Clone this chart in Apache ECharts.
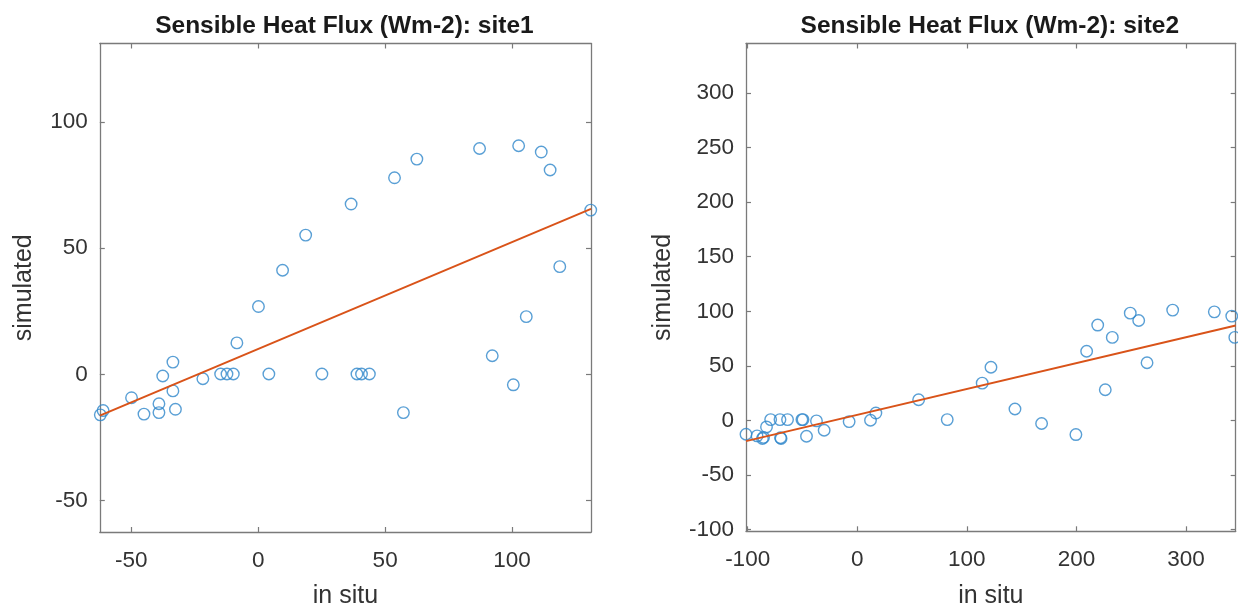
<!DOCTYPE html>
<html>
<head>
<meta charset="utf-8">
<script src="https://cdn.jsdelivr.net/npm/echarts@6/dist/echarts.min.js"></script>
<style>
html,body{margin:0;padding:0;background:#fff;}
#chart{width:1238px;height:609px;}
</style>
</head>
<body>
<div id="chart"></div>
<script>
// ---- data ----
const site1X = [-62.2, -61.1, -49.9, -45.0, -39.1, -39.1, -37.6, -33.6, -33.6, -32.6, -21.8, -14.8, -12.3, -9.8, -8.4, 0.1, 4.2, 9.6, 18.7, 25.1, 36.6, 38.9, 40.7, 43.8, 53.7, 57.2, 62.5, 87.2, 92.2, 100.5, 102.6, 105.6, 111.5, 115.0, 118.8, 131.0];
const site1Y = [-16.0, -14.3, -9.2, -15.7, -11.6, -15.1, -0.6, 4.9, -6.5, -13.8, -1.7, 0.2, 0.2, 0.2, 12.5, 26.9, 0.2, 41.3, 55.2, 0.2, 67.5, 0.2, 0.2, 0.2, 77.9, -15.1, 85.3, 89.5, 7.4, -4.1, 90.6, 22.9, 88.1, 81.0, 42.7, 65.1];
const site2X = [-101.5, -91.4, -86.5, -85.5, -82.8, -79.0, -70.5, -63.6, -69.5, -70.0, -50.5, -49.5, -46.3, -37.2, -30.2, -7.4, 12.1, 17.0, 56.0, 82.1, 114.0, 122.0, 143.9, 168.2, 199.5, 209.3, 219.4, 226.3, 232.7, 249.1, 256.8, 264.4, 287.8, 325.8, 341.7, 344.5];
const site2Y = [-12.6, -14.1, -16.5, -15.5, -5.9, 0.8, 0.8, 0.8, -16.5, -15.8, 0.8, 0.8, -14.4, -0.4, -8.9, -1.0, 0.2, 6.8, 19.0, 0.8, 34.2, 48.8, 10.5, -2.8, -12.9, 63.4, 87.4, 28.2, 76.1, 98.3, 91.6, 52.9, 101.1, 99.5, 95.6, 76.1];
const fit1 = [[-62.4, -16.3], [131.1, 65.6]];
const fit2 = [[-101.5, -18.9], [345.3, 87.0]];
const limits1 = [-62.4, 131.1];
const limits2 = [-101.5, 345.3];
const ticks1X = [-50, 0, 50, 100];
const ticks1Y = [-50, 0, 50, 100];
const ticks2X = [-100, 0, 100, 200, 300];
const ticks2Y = [-100, -50, 0, 50, 100, 150, 200, 250, 300];
const titles = ['Sensible Heat Flux (Wm-2): site1', 'Sensible Heat Flux (Wm-2): site2'];
const xName = 'in situ';
const yName = 'simulated';

const FONT = "'Liberation Sans', Arial, Helvetica, sans-serif";
const AXIS_COLOR = '#7a7a7a';
const TEXT_COLOR = '#333333';
const MARK_COLOR = '#2f87cb';
const LINE_COLOR = '#D95319';

const grids = [
  {left: 99.8, top: 43.5, width: 491.2, height: 488.5, outerBoundsMode: 'none', containLabel: false},
  {left: 746, top: 43.5, width: 489.7, height: 487.8, outerBoundsMode: 'none', containLabel: false}
];

function pairs(xs, ys) { return xs.map((x, i) => [x, ys[i]]); }

function mkAxis(kind, gi, pos, lim, ticks, main, name, gap) {
  const a = {
    type: 'value', gridIndex: gi, position: pos, min: lim[0], max: lim[1],
    splitLine: {show: false},
    axisLine: {show: true, onZero: false, lineStyle: {color: AXIS_COLOR, width: 1.3}},
    axisTick: {show: true, inside: true, length: 5, customValues: ticks, lineStyle: {color: AXIS_COLOR, width: 1.2}},
    axisLabel: {show: main, customValues: ticks, color: TEXT_COLOR, fontSize: 22.5, fontFamily: FONT,
                margin: kind === 'x' ? 17 : 12},
  };
  if (main) {
    a.name = name; a.nameLocation = 'middle'; a.nameGap = gap;
    a.nameTextStyle = {color: TEXT_COLOR, fontSize: 25, fontFamily: FONT};
  }
  return a;
}

const option = {
  animation: false,
  backgroundColor: '#ffffff',
  title: [
    {text: titles[0], left: grids[0].left + grids[0].width / 2 - 6, top: 9, textAlign: 'center',
     textStyle: {fontSize: 24.5, fontWeight: 'bold', color: '#1a1a1a', fontFamily: FONT}},
    {text: titles[1], left: grids[1].left + grids[1].width / 2 - 6, top: 9, textAlign: 'center',
     textStyle: {fontSize: 24.5, fontWeight: 'bold', color: '#1a1a1a', fontFamily: FONT}}
  ],
  grid: grids,
  xAxis: [
    mkAxis('x', 0, 'bottom', limits1, ticks1X, true, xName, 52),
    mkAxis('x', 0, 'top', limits1, ticks1X, false),
    mkAxis('x', 1, 'bottom', limits2, ticks2X, true, xName, 52),
    mkAxis('x', 1, 'top', limits2, ticks2X, false)
  ],
  yAxis: [
    mkAxis('y', 0, 'left', limits1, ticks1Y, true, yName, 63),
    mkAxis('y', 0, 'right', limits1, ticks1Y, false),
    mkAxis('y', 1, 'left', limits2, ticks2Y, true, yName, 70),
    mkAxis('y', 1, 'right', limits2, ticks2Y, false)
  ],
  series: [
    {type: 'scatter', xAxisIndex: 0, yAxisIndex: 0, data: pairs(site1X, site1Y), symbol: 'circle', symbolSize: 11.5,
     itemStyle: {color: 'rgba(0,0,0,0)', borderColor: MARK_COLOR, borderWidth: 1.4}, clip: false},
    {type: 'line', xAxisIndex: 0, yAxisIndex: 0, data: fit1, showSymbol: false, symbol: 'none',
     lineStyle: {color: LINE_COLOR, width: 2}, z: 3},
    {type: 'scatter', xAxisIndex: 2, yAxisIndex: 2, data: pairs(site2X, site2Y), symbol: 'circle', symbolSize: 11.5,
     itemStyle: {color: 'rgba(0,0,0,0)', borderColor: MARK_COLOR, borderWidth: 1.4}, clip: false},
    {type: 'line', xAxisIndex: 2, yAxisIndex: 2, data: fit2, showSymbol: false, symbol: 'none',
     lineStyle: {color: LINE_COLOR, width: 2}, z: 3}
  ]
};

const chart = echarts.init(document.getElementById('chart'), null, {renderer: 'canvas'});
chart.setOption(option);
</script>
</body>
</html>
